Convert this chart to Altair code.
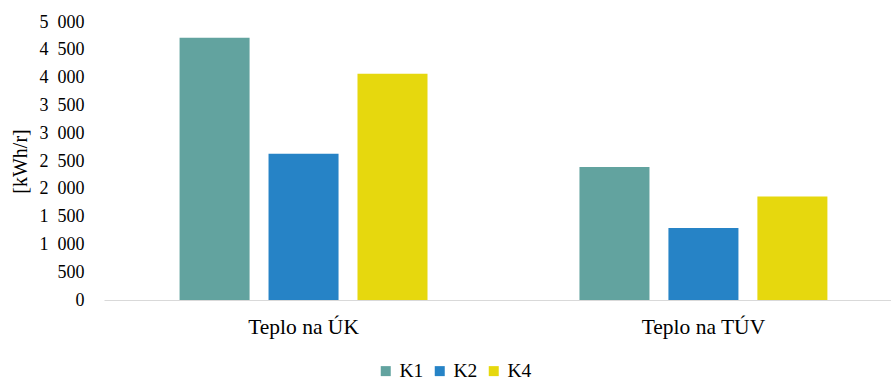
import altair as alt
import pandas as pd

categories = ["Teplo na ÚK", "Teplo na TÚV"]
series = ["K1", "K2", "K4"]
k1 = [4715, 2390]
k2 = [2630, 1295]
k4 = [4070, 1860]
colors = ["#62A39F", "#2683C6", "#E6D80E"]

rows = []
for i, c in enumerate(categories):
    for s, vals in zip(series, [k1, k2, k4]):
        rows.append({"kategorie": c, "serie": s, "hodnota": vals[i]})
df = pd.DataFrame(rows)

FONT = "Liberation Serif"

chart = alt.Chart(df).mark_bar().encode(
    x=alt.X("kategorie:N", sort=categories, title=None,
            scale=alt.Scale(paddingInner=0.38, paddingOuter=0.174, align=0.543),
            axis=alt.Axis(labelAngle=0, ticks=False, labelPadding=16, labelFontSize=21.5,
                          labelFont=FONT, labelColor="#000000", domainColor="#d9d9d9",
                          domainWidth=1)),
    xOffset=alt.XOffset("serie:N", sort=series,
                        scale=alt.Scale(paddingInner=0.213, paddingOuter=0)),
    y=alt.Y("hodnota:Q", title="[kWh/r]",
            scale=alt.Scale(domain=[0, 5000], nice=False),
            axis=alt.Axis(values=list(range(0, 5001, 500)), grid=False, domain=False,
                          ticks=False, tickSize=0, labelPadding=20, labelFontSize=18,
                          labelFont=FONT, labelColor="#000000",
                          labelExpr="replace(format(datum.value, ','), ',', '\u2002')",
                          titleFont=FONT, titleFontSize=20, titleFontWeight="normal",
                          titleColor="#000000", titlePadding=9)),
    color=alt.Color("serie:N", sort=series,
                    scale=alt.Scale(domain=series, range=colors),
                    legend=alt.Legend(title=None, orient="none", direction="horizontal",
                                      legendX=272, legendY=339, symbolType="square",
                                      symbolSize=100, symbolStrokeWidth=0,
                                      labelFont=FONT, labelFontSize=19.5,
                                      labelColor="#000000", labelOffset=4,
                                      columnPadding=6)),
).properties(
    width=787, height=278,
    autosize=alt.AutoSizeParams(type="none"),
    padding={"left": 104, "top": 22, "right": 0, "bottom": 81},
).configure_view(stroke=None)

chart.save("out.html", embed_options={"renderer": "svg", "actions": False})
